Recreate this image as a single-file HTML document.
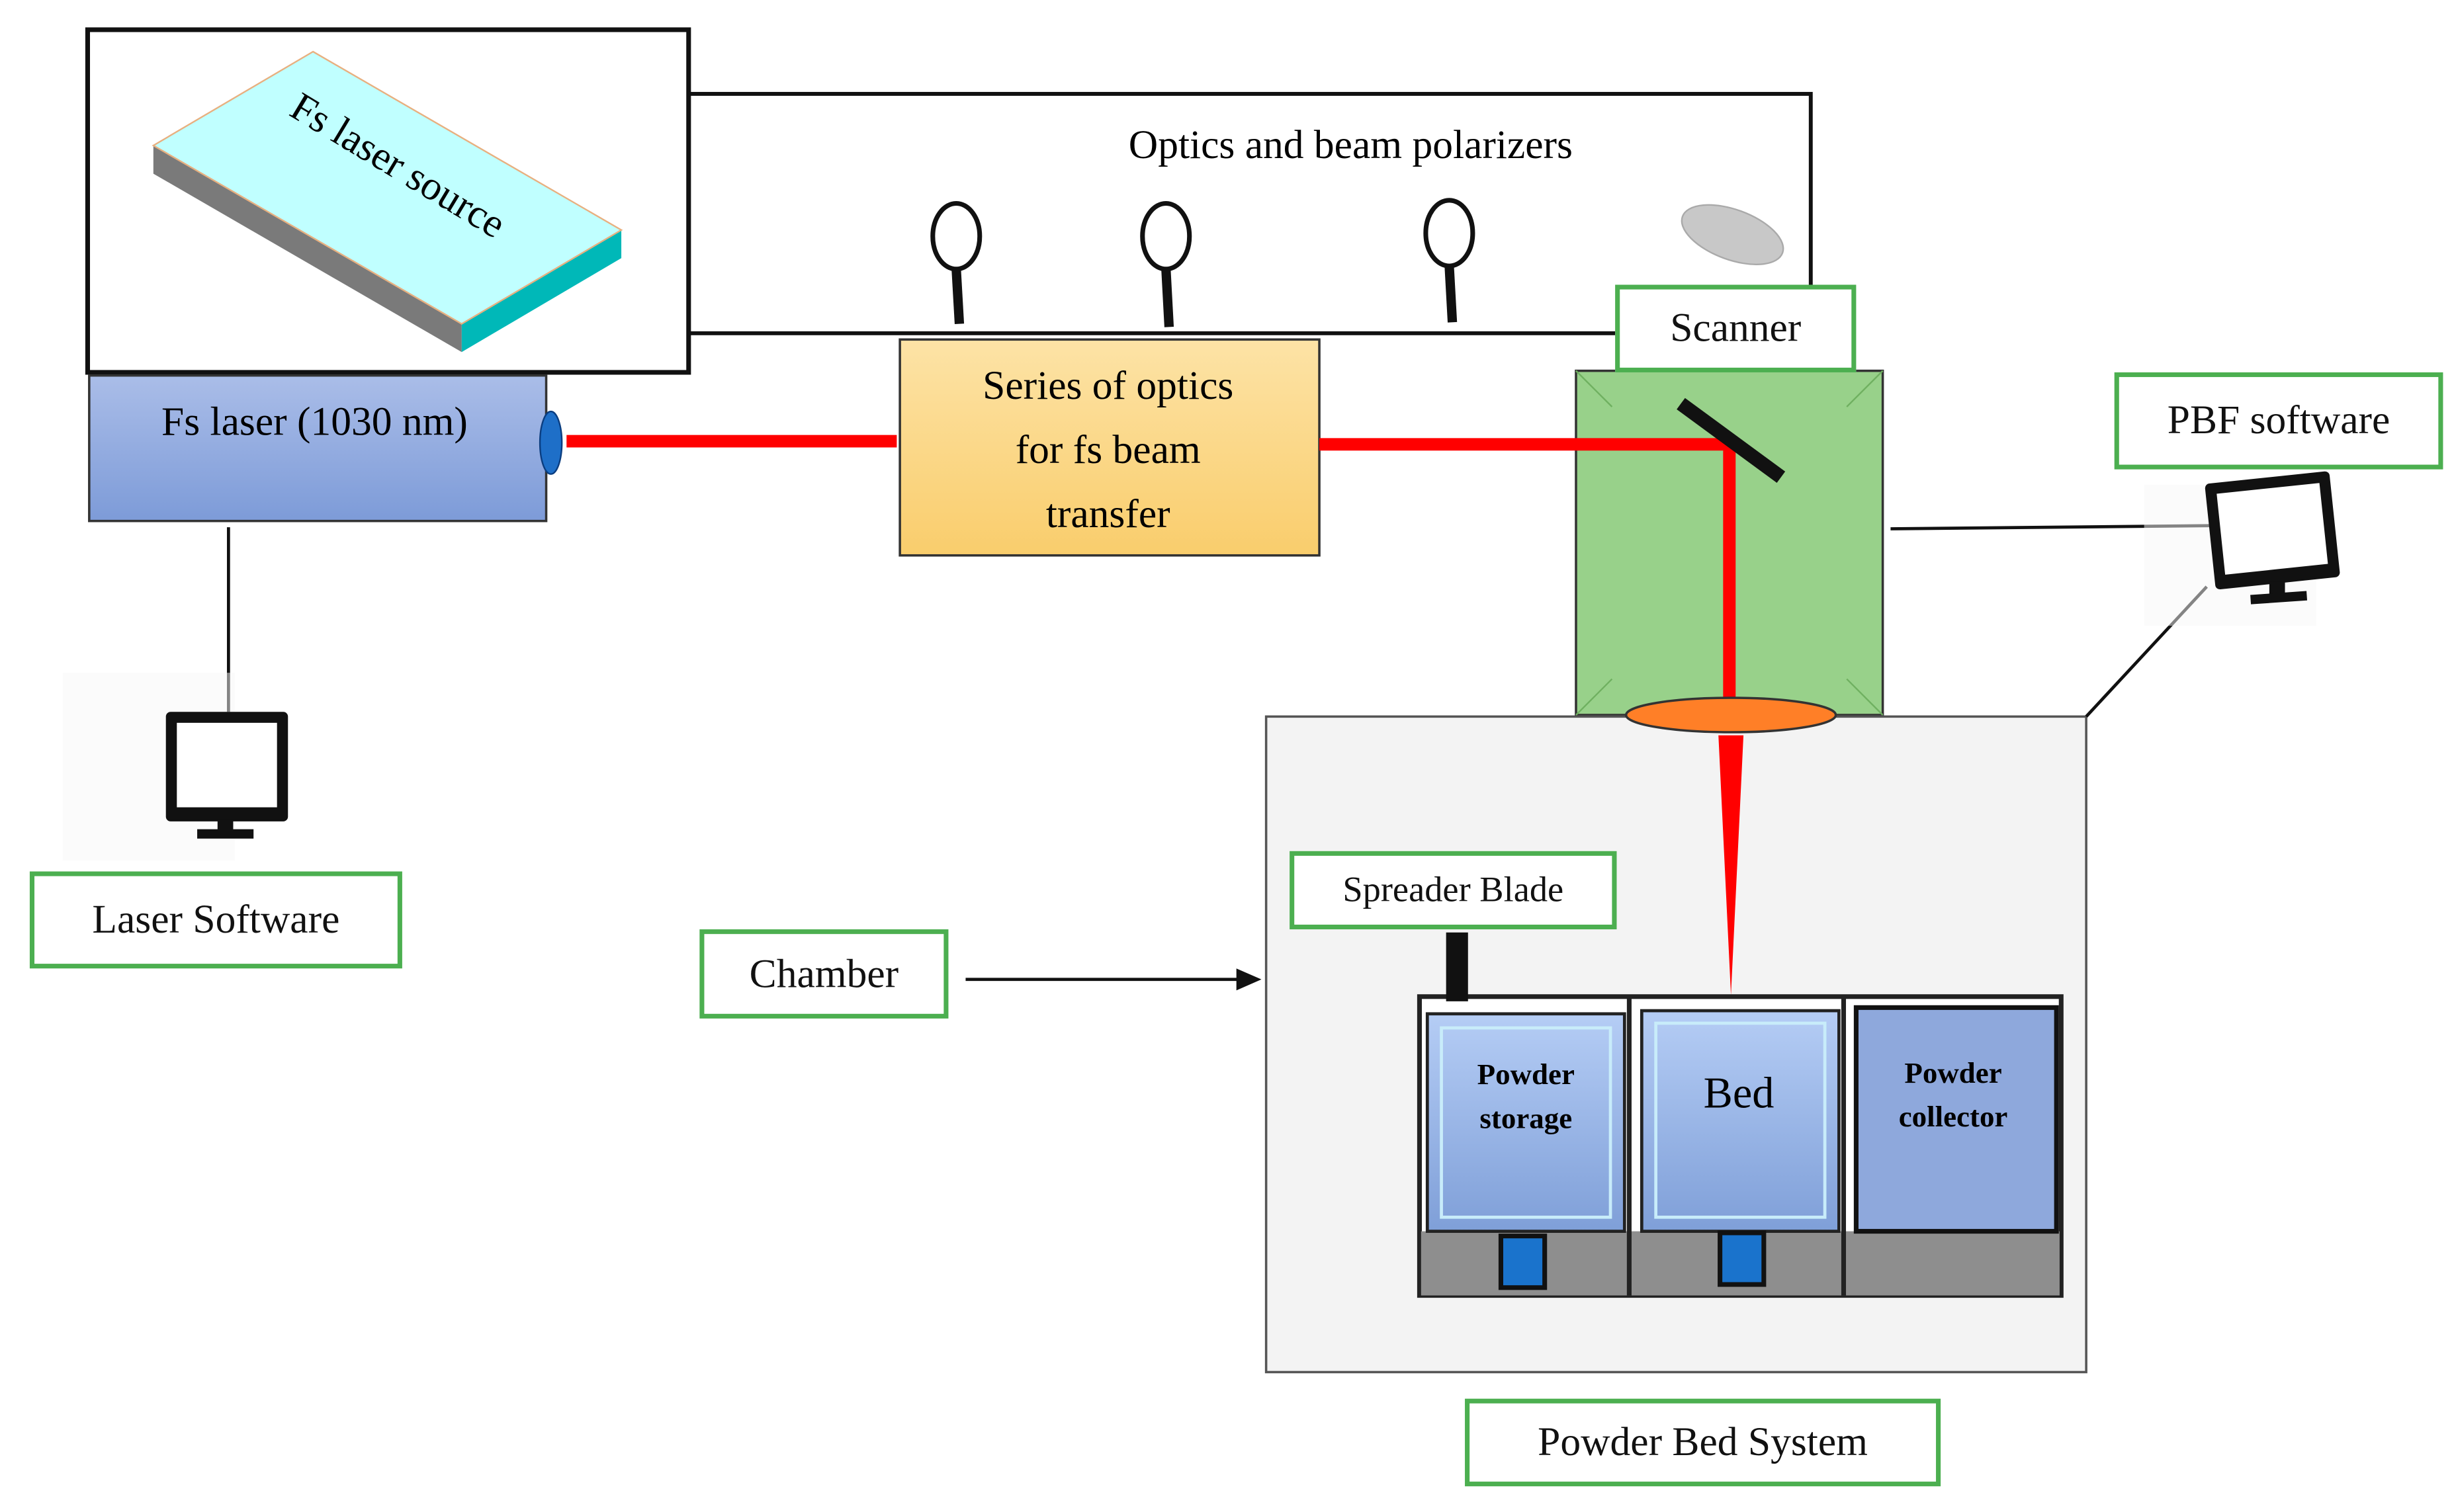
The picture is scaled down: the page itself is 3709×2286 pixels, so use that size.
<!DOCTYPE html>
<html><head><meta charset="utf-8"><style>
html,body{margin:0;padding:0;background:#fff;}
#w{width:1568px;height:966px;position:relative;transform:scale(2.36543);transform-origin:0 0;font-family:"Liberation Serif",serif;color:#111;}
.a{position:absolute;box-sizing:border-box;}
.g{position:absolute;box-sizing:border-box;border:3px solid #4caf50;background:#fff;font-size:26px;display:flex;align-items:center;justify-content:center;}
</style></head><body><div id="w">
<svg class="a" style="left:0;top:0" width="1568" height="966" viewBox="0 0 1568 966">
<defs>
<linearGradient id="bl" x1="0" y1="0" x2="0" y2="1"><stop offset="0" stop-color="#aabde8"/><stop offset="1" stop-color="#7d9bd8"/></linearGradient>
<linearGradient id="or" x1="0" y1="0" x2="0" y2="1"><stop offset="0" stop-color="#fde3a6"/><stop offset="1" stop-color="#f9cd6c"/></linearGradient>
<linearGradient id="bin" x1="0" y1="0" x2="0" y2="1"><stop offset="0" stop-color="#b5cdf5"/><stop offset="1" stop-color="#7f9fd8"/></linearGradient>
</defs>
<rect x="440" y="60" width="717" height="153" fill="#fff" stroke="#111" stroke-width="2.5"/>
<rect x="56" y="19" width="384" height="219" fill="#fff" stroke="#111" stroke-width="3"/>
<polygon points="98,93 295,207 295,225 98,111" fill="#7a7a7a"/>
<polygon points="295,207 397,147 397,165 295,225" fill="#00b8b8"/>
<polygon points="200,33 397,147 295,207 98,93" fill="#c0ffff" stroke="#e8b080" stroke-width="1"/>
<text x="250" y="113" font-size="26" text-anchor="middle" transform="rotate(31 250 113)">Fs laser source</text>
<g fill="#fff" stroke="#111" stroke-width="3">
<ellipse cx="611" cy="151" rx="15" ry="21"/><ellipse cx="745" cy="151" rx="15" ry="21"/><ellipse cx="926" cy="149" rx="15" ry="21"/>
</g>
<g stroke="#111" stroke-width="6">
<line x1="611" y1="172" x2="613" y2="207"/><line x1="745" y1="172" x2="747" y2="209"/><line x1="926" y1="170" x2="928" y2="206"/>
</g>
<ellipse cx="1107" cy="150" rx="34" ry="16" transform="rotate(20 1107 150)" fill="#c8c8c8" stroke="#aaa"/>
<rect x="57" y="240" width="292" height="93" fill="url(#bl)" stroke="#333" stroke-width="1.5"/>
<text x="201" y="278" font-size="26" text-anchor="middle">Fs laser (1030 nm)</text>
<ellipse cx="352" cy="283" rx="7" ry="20" fill="#1e6fc8" stroke="#0a3d80"/>
<line x1="362" y1="282" x2="573" y2="282" stroke="#f00" stroke-width="8"/>
<rect x="575" y="217" width="268" height="138" fill="url(#or)" stroke="#333" stroke-width="1.5"/>
<text font-size="26" text-anchor="middle"><tspan x="708" y="255">Series of optics</tspan><tspan x="708" y="296">for fs beam</tspan><tspan x="708" y="337">transfer</tspan></text>
<rect x="1007" y="237" width="196" height="220" fill="#98d18a" stroke="#333" stroke-width="1.5"/>
<line x1="1007" y1="237" x2="1030" y2="260" stroke="#6fb060"/><line x1="1203" y1="237" x2="1180" y2="260" stroke="#6fb060"/>
<line x1="1007" y1="457" x2="1030" y2="434" stroke="#6fb060"/><line x1="1203" y1="457" x2="1180" y2="434" stroke="#6fb060"/>
<line x1="843" y1="284" x2="1105" y2="284" stroke="#f00" stroke-width="8"/>
<line x1="1105" y1="284" x2="1105" y2="448" stroke="#f00" stroke-width="8"/>
<line x1="1074" y1="258" x2="1138" y2="305" stroke="#111" stroke-width="9"/>
<rect x="809" y="458" width="524" height="419" fill="#f3f3f3" stroke="#555" stroke-width="1.5"/>
<ellipse cx="1106" cy="457" rx="67" ry="11" fill="#ff7f27" stroke="#333" stroke-width="1.5"/>
<polygon points="1098,470 1114,470 1106,636" fill="#f00"/>
<line x1="146" y1="337" x2="146" y2="455" stroke="#111" stroke-width="2"/>
<line x1="1208" y1="338" x2="1412" y2="336" stroke="#111" stroke-width="2"/>
<line x1="1333" y1="458" x2="1410" y2="375" stroke="#111" stroke-width="2"/>
<line x1="617" y1="626" x2="792" y2="626" stroke="#111" stroke-width="2"/>
<polygon points="806,626 790,619 790,633" fill="#111"/>
<g>
<rect x="40" y="430" width="110" height="120" fill="#f7f7f7" opacity="0.5"/>
<rect x="106" y="455" width="78" height="70" rx="3" fill="#111"/><rect x="113" y="462" width="64" height="54" fill="#fff"/>
<rect x="139" y="524" width="10" height="8" fill="#111"/><rect x="126" y="530" width="36" height="6" fill="#111"/>
</g>
<g>
<rect x="1370" y="310" width="110" height="90" fill="#f7f7f7" opacity="0.5"/>
<rect x="1412" y="305" width="80" height="68" rx="3" fill="#111" transform="rotate(-6 1452 339)"/>
<rect x="1419" y="312" width="66" height="52" fill="#fff" transform="rotate(-6 1452 339)"/>
<rect x="1450" y="372" width="10" height="8" fill="#111"/><rect x="1438" y="379" width="36" height="6" fill="#111" transform="rotate(-4 1456 382)"/>
</g>
<rect x="907" y="637" width="410" height="191" fill="#fff" stroke="#222" stroke-width="3"/>
<rect x="908" y="787" width="408" height="41" fill="#8e8e8e"/>
<line x1="1041" y1="637" x2="1041" y2="828" stroke="#222" stroke-width="3"/>
<line x1="1178" y1="637" x2="1178" y2="828" stroke="#222" stroke-width="3"/>
<rect x="912" y="648" width="126" height="139" fill="url(#bin)" stroke="#222" stroke-width="2"/>
<rect x="921" y="657" width="108" height="121" fill="none" stroke="#c8ecfa" stroke-width="2"/>
<rect x="1049" y="646" width="126" height="141" fill="url(#bin)" stroke="#222" stroke-width="2"/>
<rect x="1058" y="654" width="108" height="124" fill="none" stroke="#c8ecfa" stroke-width="2"/>
<rect x="1186" y="644" width="128" height="143" fill="#8ea8dc" stroke="#111" stroke-width="3"/>
<rect x="959" y="790" width="28" height="33" fill="#1a73cc" stroke="#111" stroke-width="3"/>
<rect x="1099" y="788" width="28" height="33" fill="#1a73cc" stroke="#111" stroke-width="3"/>
<rect x="924" y="596" width="14" height="44" fill="#111"/>
<text font-size="19" font-weight="bold" text-anchor="middle"><tspan x="975" y="693">Powder</tspan><tspan x="975" y="721">storage</tspan></text>
<text x="1111" y="708" font-size="28" text-anchor="middle">Bed</text>
<text font-size="19" font-weight="bold" text-anchor="middle"><tspan x="1248" y="692">Powder</tspan><tspan x="1248" y="720">collector</tspan></text>
<text x="863" y="101" font-size="26" text-anchor="middle">Optics and beam polarizers</text>
</svg>
<div class="g" style="left:1032px;top:182px;width:154px;height:56px;">Scanner</div>
<div class="g" style="left:1351px;top:238px;width:210px;height:62px;">PBF software</div>
<div class="g" style="left:19px;top:557px;width:238px;height:62px;">Laser Software</div>
<div class="g" style="left:447px;top:594px;width:159px;height:57px;">Chamber</div>
<div class="g" style="left:824px;top:544px;width:209px;height:50px;font-size:23px;">Spreader Blade</div>
<div class="g" style="left:936px;top:894px;width:304px;height:56px;">Powder Bed System</div>
</div></body></html>
